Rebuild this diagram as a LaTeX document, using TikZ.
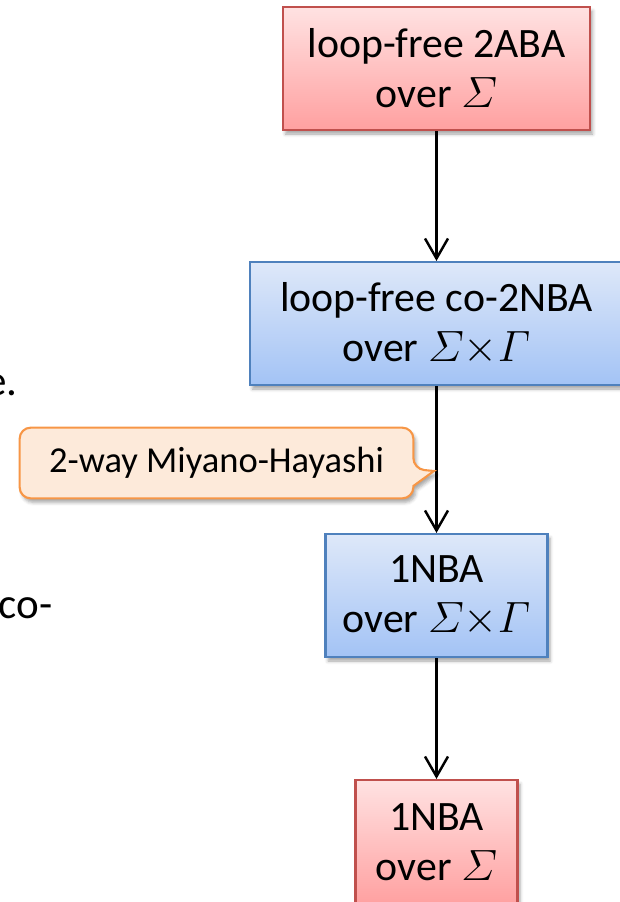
\documentclass[tikz,border=0pt]{standalone}
\usepackage{amsmath}
\usepackage{fontspec}
\setmainfont{Carlito}
\definecolor{boxred}{RGB}{192,80,77}
\definecolor{redtop}{RGB}{255,226,226}
\definecolor{redbot}{RGB}{255,160,160}
\definecolor{boxblue}{RGB}{79,129,189}
\definecolor{bluetop}{RGB}{222,232,249}
\definecolor{bluebot}{RGB}{163,195,245}
\definecolor{hintorange}{RGB}{247,150,70}
\definecolor{hintfill}{RGB}{253,234,218}
\usetikzlibrary{arrows.meta,positioning,shadows.blur}
\newcommand\boxfont{\fontsize{23.8}{28.5}\selectfont}
\newcommand\hintfont{\fontsize{20.8}{25}\selectfont}

\begin{document}
\begin{tikzpicture}[
  autbox/.style={line width=1.2pt,minimum height=2.46cm,align=center,font=\boxfont,
    blur shadow={shadow xshift=0.05cm,shadow yshift=-0.08cm,shadow opacity=35}},
  redbox/.style={autbox,draw=boxred,top color=redtop,bottom color=redbot},
  bluebox/.style={autbox,draw=boxblue,top color=bluetop,bottom color=bluebot},
  arr/.style={-{Straight Barb[length=0.40cm,width=0.46cm]},line width=1.4pt},
  hint/.style={minimum width=7.86cm,minimum height=1.40cm,font=\hintfont},
  hintline/.style={draw=hintorange,line width=1.2pt,fill=hintfill,
    blur shadow={shadow xshift=0.05cm,shadow yshift=-0.08cm,shadow opacity=35}},
  slide/.style={font=\fontsize{24.5}{29}\selectfont,inner sep=0pt}
]
  \useasboundingbox (0,0) rectangle (12.38,-18.04);
  % Slide text cut off on the left
  \node[slide,anchor=base east] (cut1) at (0.36,-7.90) {e.};
  \node[slide,anchor=base west] (cut2) at (-0.03,-12.36) {co-};
  % Automata
  \node[redbox,minimum width=6.14cm] (aba) at (8.73,-1.37) {loop-free 2ABA\\over $\varSigma$};
  \node[bluebox,minimum width=7.46cm] (conba) at (8.73,-6.47) {loop-free co-2NBA\\over $\varSigma{\times}\varGamma$};
  \node[bluebox,minimum width=4.44cm] (nbagam) at (8.73,-11.91) {1NBA\\over $\varSigma{\times}\varGamma$};
  \node[redbox,minimum width=3.24cm,minimum height=2.50cm] (nba) at (8.73,-16.85) {1NBA\\over $\varSigma$};
  % Arrows
  \draw[arr] (aba.south) -- (conba.north);
  \draw[arr] (conba.south) -- (nbagam.north);
  \draw[arr] (nbagam.south) -- (nba.north);
  % Callout
  \node[hint] (mh) at (4.33,-9.26) {};
  \coordinate (mhtip) at (8.68,-9.42);
  \path[hintline] (mh.north) [rounded corners=0.22cm] -- (mh.north east)
    -- ([yshift=-0.12cm]mh.east) [sharp corners] -- (mhtip)
    -- ([yshift=-0.46cm]mh.east) [rounded corners=0.22cm] -- (mh.south east)
    -- (mh.south west) -- (mh.north west) -- cycle;
  \node[hint] (mhtext) at (mh) {2-way Miyano-Hayashi};
\end{tikzpicture}
\end{document}
